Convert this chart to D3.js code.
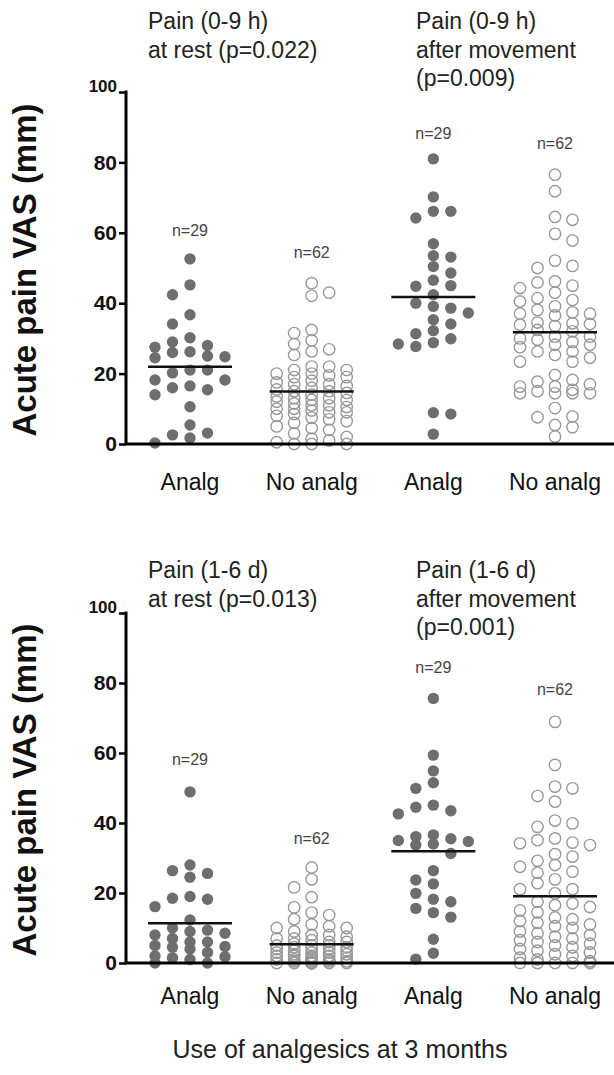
<!DOCTYPE html>
<html>
<head>
<meta charset="utf-8">
<script src="https://cdn.jsdelivr.net/npm/d3@7"></script>
<style>
  body { margin: 0; background: #fff; }
  svg text { font-family: "Liberation Sans", Arial, sans-serif; }
</style>
</head>
<body>
<div id="chart"></div>
<script>
// groups along the x axis (same in both panels)
var groupKeys = ["restAnalg", "restNo", "moveAnalg", "moveNo"];
var groupLabels = ["Analg", "No analg", "Analg", "No analg"];
var nLabels = ["n=29", "n=62", "n=29", "n=62"];
var yTicks = [0, 20, 40, 60, 80, 100];

// pain 0-9 h, VAS mm
var rest09Analg = [52.6, 45.2, 42.4, 36.7, 34.1, 30.2, 29, 28, 27.5, 26.2, 26, 25, 24.8, 24.5,
  21, 20.2, 21, 18.2, 18.2, 15.4, 16, 16.5, 14, 10.6, 5.4, 2.6, 3.1, 1.7, 0.3];
var rest09No = [45.7, 43, 42.1, 31.5, 32.4, 28.4, 29.4, 26.3, 26.9, 25.3,
  22, 22, 21, 21, 20, 20, 19.5, 19, 19, 18, 17.5, 17, 17, 16.5, 16, 15.5, 15, 15, 14.5,
  14, 13.5, 13, 13, 12.5, 12.5, 12, 11.5, 11, 11, 10.5, 10, 10, 9.5, 9, 9, 8.5,
  8, 7.5, 7, 6.5, 6, 5, 4.5, 4, 3, 2, 1.5, 1, 0.5, 0, 0, 0];
var move09Analg = [81, 70.2, 66.1, 64.2, 66.1, 56.9, 53.5, 53.1, 50.4, 48.6, 46.5, 45, 44.8, 42.4,
  40, 38.6, 39.1, 37.2, 35.3, 34.1, 32.2, 31.3, 28.8, 27.7, 28.4, 29.9, 8.9, 8.5, 2.8];
var move09No = [76.5, 71.8, 64.5, 63.7, 59.7, 57.8, 52.1, 50.6, 50, 45.9, 46.2, 45, 44.3,
  43, 41.4, 40.9, 40.5, 39.1, 38.1, 37.4, 37, 37, 36.5, 34.5, 34.1, 33.9, 34.3, 33.5, 32.4, 32,
  30.5, 30.5, 30, 29.6, 29, 28.2, 28.2, 27.5, 26.3, 26.3, 25.3, 24.5, 23.4, 23.4,
  19.6, 18.2, 17.7, 17, 16.3, 16.3, 15.4, 15, 14.4, 14.4, 14.4, 14.4,
  10.2, 7.8, 7.6, 5.4, 4.8, 2.1];

// pain 1-6 d, VAS mm
var rest16Analg = [48.9, 28, 26.4, 24.5, 25.6, 18.5, 18.2, 19, 16.1, 12.3,
  10, 9.4, 9, 8.5, 8, 7, 6, 6, 5, 4.7, 4.5, 4, 3, 2, 1.8, 1.5, 1, 0, 0];
var rest16No = [27.3, 23.9, 21.6, 18.8, 15.9, 14.4, 13.7, 12.5,
  11, 10.5, 10, 10, 9, 8, 8, 7.5, 7, 7, 6.5, 6, 6, 5.5, 5, 5, 5, 4.5, 4.5,
  4, 4, 4, 3.5, 3.5, 3, 3, 3, 2.5, 2.5, 2, 2, 2, 2, 1.5, 1.5, 1, 1, 1, 1, 0.5, 0.5, 0.5, 0.5,
  0, 0, 0, 0, 0, 0, 0, 0, 0, 0, 0];
var move16Analg = [75.6, 59.4, 54.9, 51.5, 49.9, 44.5, 42.6, 43.5, 45.1,
  36.6, 35, 34.7, 36.1, 33.7, 34, 31.3, 35.5,
  26.4, 23.7, 22.6, 19.9, 18.2, 17.5, 15.6, 14.4, 13.1, 6.8, 2.8, 1.1];
var move16No = [68.9, 56.6, 49.9, 50.4, 47.7, 46.1, 39.9, 38.9, 40.7,
  35.1, 34.2, 33.7, 34.4, 35.6, 30.4, 28, 27.5, 25.8, 29.2, 31.1,
  26.1, 23.9, 22.8, 21.1, 21.1, 19.9, 17.5,
  17, 16.5, 16, 15, 14.5, 13, 12.5, 12, 11.5, 11, 10.5, 10, 9, 8.5, 8, 7.5, 7,
  6.5, 6, 5.5, 5, 4.5, 4, 3.5, 3, 2.5, 2, 1.5, 1, 0.5, 0, 0, 0, 0, 0];

var panels = [
  { top: 92, bottom: 444, series: [rest09Analg, rest09No, move09Analg, move09No],
    titleLeft: ["Pain (0-9 h)", "at rest (p=0.022)"],
    titleRight: ["Pain (0-9 h)", "after movement", "(p=0.009)"],
    titleY: 29, nY: [236, 258, 139, 149], labelGap: 46 },
  { top: 613, bottom: 963, series: [rest16Analg, rest16No, move16Analg, move16No],
    titleLeft: ["Pain (1-6 d)", "at rest (p=0.013)"],
    titleRight: ["Pain (1-6 d)", "after movement", "(p=0.001)"],
    titleY: 578, nY: [765, 844, 673, 695], labelGap: 41 }
];

var width = 614, height = 1075;
var axisX = 126;
var filled = [true, false, true, false];
var r = 5.7, colStep = 17.5;

var svg = d3.select("#chart").append("svg")
    .attr("width", width)
    .attr("height", height);

var x = d3.scalePoint().domain(groupKeys).range([190, 555]);

// simple column scatter: put each point in the nearest free column
function swarm(values, y, cx) {
  var cols = {};
  var pts = values.map(function(v) { return { v: v, y: y(v) }; })
    .sort(function(a, b) { return a.y - b.y; });
  pts.forEach(function(p, i) {
    var order = i % 2 ? [0, 1, -1, 2, -2] : [0, -1, 1, -2, 2];
    var best = null, bestGap = -1;
    for (var k = 0; k < order.length; k++) {
      var c = order[k];
      var list = cols[c] || [];
      var gap = d3.min(list, function(q) { return Math.abs(q - p.y); });
      if (gap === undefined) gap = Infinity;
      if (gap >= 2 * r - 1) { best = c; break; }
      if (gap > bestGap) { bestGap = gap; best = c; }
    }
    (cols[best] = cols[best] || []).push(p.y);
    p.x = cx + best * colStep;
  });
  return pts;
}

panels.forEach(function(panel) {
  var y = d3.scaleLinear().domain([0, 100]).range([panel.bottom, panel.top]);
  var g = svg.append("g");

  // titles
  var tl = g.append("text").attr("x", 148).attr("y", panel.titleY)
      .attr("font-size", 23).attr("fill", "#222");
  panel.titleLeft.forEach(function(t, i) {
    tl.append("tspan").attr("x", 148).attr("dy", i ? 28.5 : 0).text(t);
  });
  var tr = g.append("text").attr("x", 416).attr("y", panel.titleY)
      .attr("font-size", 23).attr("fill", "#222");
  panel.titleRight.forEach(function(t, i) {
    tr.append("tspan").attr("x", 416).attr("dy", i ? 28.5 : 0).text(t);
  });

  // y axis
  var yAxis = g.append("g")
      .attr("transform", "translate(" + axisX + ",0)")
      .call(d3.axisLeft(y).tickValues(yTicks).tickSize(7).tickSizeOuter(0).tickPadding(2));
  yAxis.select(".domain").attr("stroke-width", 3).attr("d", "M0," + (panel.top - 1.5) + "V" + panel.bottom);
  yAxis.selectAll(".tick line").attr("stroke-width", 2.5);
  yAxis.selectAll(".tick text")
      .attr("font-size", 21).attr("font-weight", "bold").attr("fill", "#111")
      .attr("font-family", "'Liberation Sans', Arial, sans-serif");
  // the 100 label sits a little higher in the original
  yAxis.selectAll(".tick").filter(function(d) { return d === 100; })
      .select("text").attr("dy", "-0.05em").attr("font-size", 17);

  // y label
  g.append("text")
      .attr("transform", "translate(36," + ((panel.top + panel.bottom) / 2 + 2) + ") rotate(-90)")
      .attr("text-anchor", "middle")
      .attr("font-size", 33).attr("font-weight", "bold").attr("fill", "#111")
      .text("Acute pain VAS (mm)");

  // dots
  panel.series.forEach(function(vals, i) {
    var cx = x(groupKeys[i]);
    var pts = swarm(vals, y, cx);
    g.append("g").selectAll("circle").data(pts).enter().append("circle")
        .attr("cx", function(d) { return d.x; })
        .attr("cy", function(d) { return d.y; })
        .attr("r", r)
        .attr("fill", filled[i] ? "#6e6e6e" : "none")
        .attr("stroke", filled[i] ? "none" : "#999")
        .attr("stroke-width", 1.4);
    var m = d3.mean(vals);
    g.append("line")
        .attr("x1", cx - 42).attr("x2", cx + 42)
        .attr("y1", y(m)).attr("y2", y(m))
        .attr("stroke", "#111").attr("stroke-width", 2.5);
    g.append("text")
        .attr("x", cx).attr("y", panel.nY[i])
        .attr("text-anchor", "middle")
        .attr("font-size", 16).attr("fill", "#444")
        .text(nLabels[i]);
  });

  // x axis line
  g.append("line")
      .attr("x1", axisX - 1.5).attr("x2", width)
      .attr("y1", panel.bottom).attr("y2", panel.bottom)
      .attr("stroke", "#000").attr("stroke-width", 3);

  g.append("g").selectAll("text").data(groupKeys).enter().append("text")
      .attr("x", function(d) { return x(d); })
      .attr("y", panel.bottom + panel.labelGap)
      .attr("text-anchor", "middle")
      .attr("font-size", 23).attr("fill", "#111")
      .text(function(d, i) { return groupLabels[i]; });
});

svg.append("text")
    .attr("x", 340).attr("y", 1058)
    .attr("text-anchor", "middle")
    .attr("font-size", 25).attr("fill", "#222")
    .text("Use of analgesics at 3 months");
</script>
</body>
</html>
